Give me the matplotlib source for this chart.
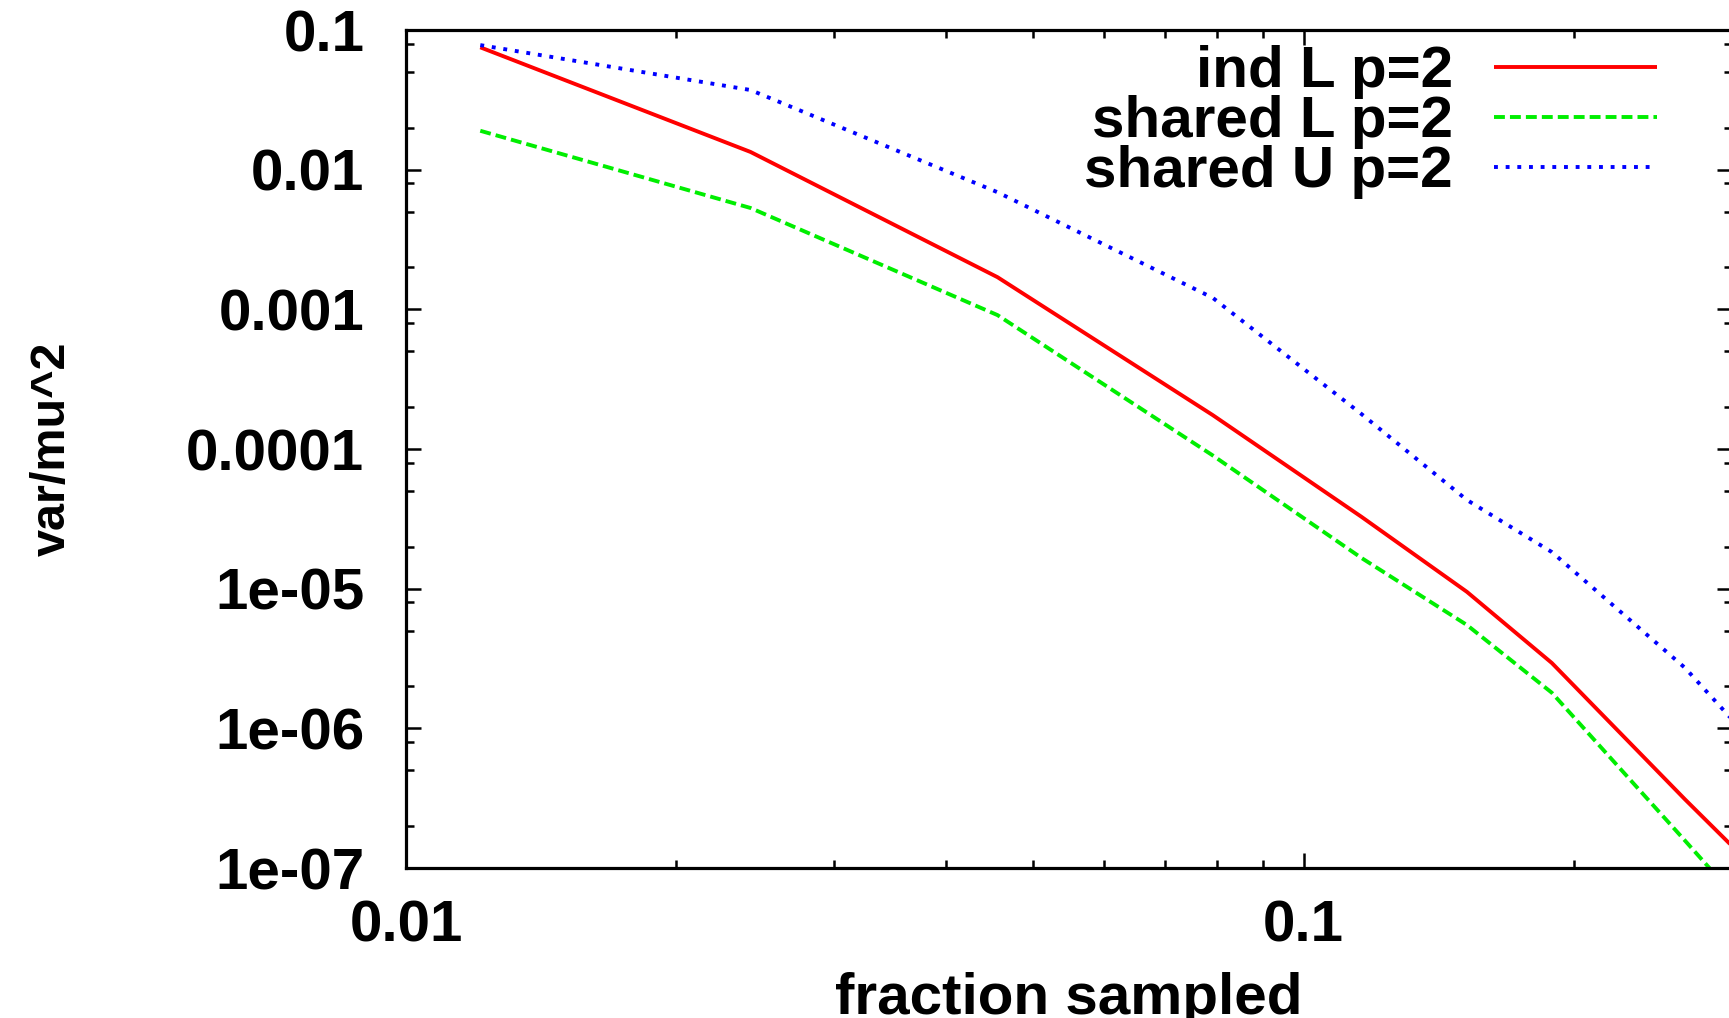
import numpy as np
import matplotlib
matplotlib.use('Agg')
import matplotlib.pyplot as plt
from matplotlib.ticker import LogLocator, FuncFormatter, NullFormatter

plt.rcParams['font.family'] = ['Liberation Sans', 'DejaVu Sans']
plt.rcParams['font.weight'] = 'bold'
plt.rcParams['axes.labelweight'] = 'bold'
plt.rcParams['font.size'] = 42

# fraction sampled (x) and var/mu^2 for each curve
frac = [0.0121, 0.0242, 0.0456, 0.0792, 0.116, 0.152, 0.189, 0.266, 0.30]
ind_L = [0.0752, 0.0134, 0.0017, 1.75e-4, 3.27e-5, 9.5e-6, 2.94e-6, 3.1e-7, 1.44e-7]
shared_L = [0.019, 0.00532, 9.1e-4, 9.0e-5, 1.66e-5, 5.5e-6, 1.8e-6, 1.57e-7, 6.6e-8]
shared_U = [0.078, 0.0372, 0.0069, 1.21e-3, 1.78e-4, 4.32e-5, 1.83e-5, 2.71e-6, 1.16e-6]
labels = ['ind L p=2', 'shared L p=2', 'shared U p=2']

fig = plt.figure(figsize=(17.29, 10.18), dpi=100)
ax = fig.add_axes([0.2348, 0.1473, 0.7669, 0.8232])

lw = 2.8
ax.plot(frac, ind_L, color='#ff0000', lw=lw, solid_capstyle='butt', label=labels[0])
ax.plot(frac, shared_L, color='#00ee00', lw=lw, dashes=(2.8, 1.3), label=labels[1])
ax.plot(frac, shared_U, color='#0000ff', lw=lw, dashes=(1.0, 2.0), label=labels[2])

ax.set_xscale('log')
ax.set_yscale('log')
ax.set_xlim(0.01, 0.3)
ax.set_ylim(1e-7, 0.1)

# ticks: inward, all four sides
ax.xaxis.set_major_locator(LogLocator(base=10, subs=(1.0,)))
ax.xaxis.set_minor_locator(LogLocator(base=10, subs=np.arange(2, 10)))
ax.yaxis.set_major_locator(LogLocator(base=10, subs=(1.0,), numticks=20))
ax.yaxis.set_minor_locator(LogLocator(base=10, subs=(2.0, 5.0, 8.0), numticks=20))
fmt = FuncFormatter(lambda v, p: '%g' % v)
ax.xaxis.set_major_formatter(fmt)
ax.yaxis.set_major_formatter(fmt)
ax.xaxis.set_minor_formatter(NullFormatter())
ax.yaxis.set_minor_formatter(NullFormatter())
ax.tick_params(which='both', direction='in', top=True, right=True, width=1.8)
ax.tick_params(which='major', length=11)
ax.tick_params(which='minor', length=6)
ax.tick_params(axis='x', which='major', pad=23)
ax.tick_params(axis='y', which='major', pad=30)
for s in ax.spines.values():
    s.set_linewidth(2.3)

ax.set_xlabel('fraction sampled')
ax.set_ylabel('var/mu^2', fontsize=35)
ax.xaxis.set_label_coords(0.5, -0.124)
ax.yaxis.set_label_coords(-0.25, 0.5)

ax.legend(loc='upper right', bbox_to_anchor=(0.9434, 0.982), frameon=False,
          markerfirst=False, handlelength=2.8, handletextpad=0.7,
          labelspacing=-0.07, borderpad=0, borderaxespad=0)

fig.savefig('out.png', dpi=100)
